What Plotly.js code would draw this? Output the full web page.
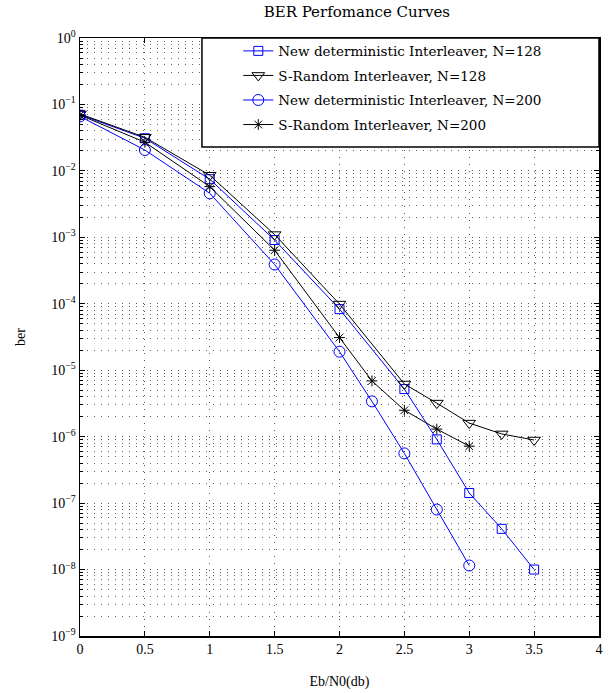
<!DOCTYPE html>
<html>
<head>
<meta charset="utf-8">
<script src="https://cdn.plot.ly/plotly-3.0.1.min.js"></script>
<style>html,body{margin:0;padding:0;background:#fff;}#chart{width:611px;height:693px;}</style>
</head>
<body>
<div id="chart"></div>
<script>
// Data
const xNew128 = [0, 0.5, 1, 1.5, 2, 2.5, 2.75, 3, 3.25, 3.5];
const berNew128 = [0.07, 0.031, 0.0075, 0.00091, 8.3e-5, 5.2e-6, 9.1e-7, 1.42e-7, 4.1e-8, 1.0e-8];
const xSR128 = [0, 0.5, 1, 1.5, 2, 2.5, 2.75, 3, 3.25, 3.5];
const berSR128 = [0.072, 0.032, 0.0086, 0.0011, 9.9e-5, 6.2e-6, 3.2e-6, 1.6e-6, 1.1e-6, 8.9e-7];
const xNew200 = [0, 0.5, 1, 1.5, 2, 2.25, 2.5, 2.75, 3];
const berNew200 = [0.066, 0.0206, 0.0046, 0.00039, 1.9e-5, 3.4e-6, 5.6e-7, 8.0e-8, 1.15e-8];
const xSR200 = [0, 0.5, 1, 1.5, 2, 2.25, 2.5, 2.75, 3];
const berSR200 = [0.069, 0.027, 0.0058, 0.00064, 3.1e-5, 6.9e-6, 2.5e-6, 1.3e-6, 7.2e-7];
const seriesNames = ["New deterministic Interleaver, N=128", "S-Random Interleaver, N=128",
  "New deterministic Interleaver, N=200", "S-Random Interleaver, N=200"];
const xTickVals = [0, 0.5, 1, 1.5, 2, 2.5, 3, 3.5, 4];
const yExponents = [0, -1, -2, -3, -4, -5, -6, -7, -8, -9];

const blue = "rgb(0,0,255)", black = "rgb(0,0,0)";
const serif = "Liberation Serif, Times New Roman, serif";
const wideSerif = "DejaVu Serif, serif";

const traces = [
  {x: xNew128, y: berNew128, name: seriesNames[0], legendgroup: "a", mode: "lines+markers", type: "scatter",
   line: {color: blue, width: 1}, marker: {symbol: "square-open", size: 9, color: blue, line: {width: 1}}},
  {x: xSR128, y: berSR128, name: seriesNames[1], legendgroup: "b", mode: "lines+markers", type: "scatter",
   line: {color: black, width: 1}, marker: {symbol: "triangle-down-open", size: 11, color: black, line: {width: 1}}},
  {x: xNew200, y: berNew200, name: seriesNames[2], legendgroup: "c", mode: "lines+markers", type: "scatter",
   line: {color: blue, width: 1}, marker: {symbol: "circle-open", size: 11, color: blue, line: {width: 1}}},
  {x: xSR200, y: berSR200, name: seriesNames[3], legendgroup: "d", mode: "lines+markers", type: "scatter",
   line: {color: black, width: 1}, marker: {symbol: "asterisk-open", size: 9, color: black, line: {width: 1}}}
];

const layout = {
  width: 611, height: 693,
  margin: {l: 80, r: 12, t: 38, b: 57},
  paper_bgcolor: "#fff", plot_bgcolor: "#fff",
  font: {family: serif, color: "#000", size: 13},
  title: {text: "BER Perfomance Curves", font: {family: wideSerif, size: 15, color: "#000"}, x: 0.584, xanchor: "center", y: 0.99, yanchor: "top"},
  showlegend: true,
  legend: {x: 0.305, y: 1.004, xanchor: "left", yanchor: "top", bgcolor: "rgba(0,0,0,0)", borderwidth: 0,
           font: {family: wideSerif, size: 13.5, color: "#000"}, tracegroupgap: 4},
  shapes: [
    {type: "rect", xref: "paper", yref: "paper", x0: 0.235, x1: 1, y0: 0.8177, y1: 1,
     fillcolor: "#fff", line: {color: "#000", width: 1.5}, layer: "above"}
  ],
  xaxis: {
    range: [0, 4], tickvals: xTickVals, ticktext: xTickVals.map(String),
    showline: true, linecolor: "#000", linewidth: 1.5, mirror: "ticks",
    ticks: "inside", ticklen: 5, tickcolor: "#000",
    showgrid: true, gridcolor: "#555", griddash: "1px,6px", gridwidth: 1, zeroline: false,
    tickfont: {family: serif, size: 14},
    title: {text: "Eb/N0(db)", font: {family: serif, size: 14}, standoff: 20}
  },
  yaxis: {
    type: "log", range: [-9, 0],
    tickvals: yExponents.map(e => Math.pow(10, e)),
    ticktext: yExponents.map(e => "10<sup>" + (e < 0 ? "\u2212" + (-e) : e) + "</sup>"),
    showline: true, linecolor: "#000", linewidth: 1.5, mirror: "ticks",
    ticks: "inside", ticklen: 5, tickcolor: "#000",
    showgrid: true, gridcolor: "#555", griddash: "1px,6px", gridwidth: 1, zeroline: false,
    minor: {dtick: "D1", ticks: "inside", ticklen: 3, tickcolor: "#000", showgrid: true, gridcolor: "#666", griddash: "1px,6px", gridwidth: 1},
    tickfont: {family: serif, size: 14},
    title: {text: "ber", font: {family: serif, size: 14}, standoff: 22}
  }
};

Plotly.newPlot("chart", traces, layout, {displayModeBar: false, staticPlot: true});
</script>
</body>
</html>
